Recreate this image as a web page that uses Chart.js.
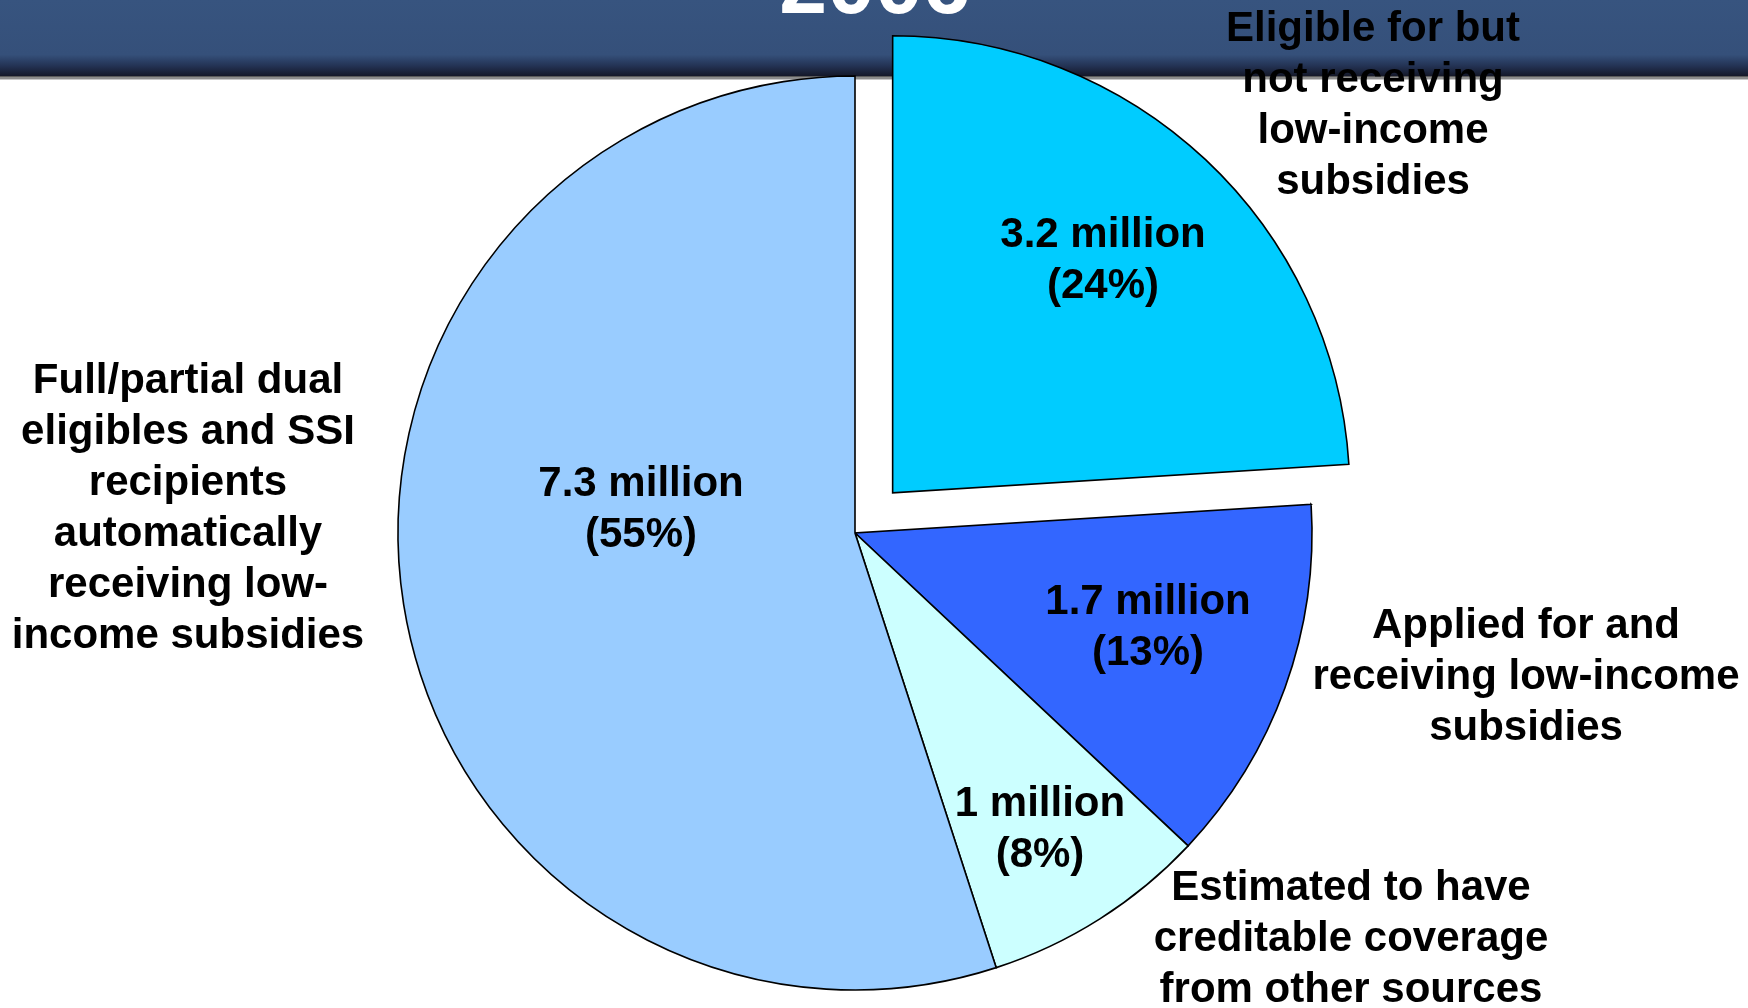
<!DOCTYPE html>
<html>
<head>
<meta charset="utf-8">
<title>Low-income subsidy status, 2006</title>
<script src="https://cdn.jsdelivr.net/npm/chart.js@4/dist/chart.umd.min.js"></script>
<style>
  html, body { margin: 0; padding: 0; background: #fff; }
  canvas { display: block; }
</style>
</head>
<body>
<canvas id="lisChart" width="1748" height="1008"></canvas>
<script>
// slices, clockwise from 12 o'clock
const categories = [
  "Eligible for but not receiving low-income subsidies",
  "Applied for and receiving low-income subsidies",
  "Estimated to have creditable coverage from other sources",
  "Full/partial dual eligibles and SSI recipients automatically receiving low-income subsidies"
];
const millions = [3.2, 1.7, 1, 7.3];
const percents = [24, 13, 8, 55];
const title = "2006";

// outer category text, already broken into lines
const outerLines = [
  ["Eligible for but", "not receiving", "low-income", "subsidies"],
  ["Applied for and", "receiving low-income", "subsidies"],
  ["Estimated to have", "creditable coverage", "from other sources"],
  ["Full/partial dual", "eligibles and SSI", "recipients", "automatically", "receiving low-", "income subsidies"]
];

const sliceColors = ["#00CCFF", "#3366FF", "#CCFFFF", "#99CCFF"];
const FONT = 'bold 42px "Liberation Sans", Arial, sans-serif';
const LINE = 51;

// where each text block sits, in px from the pie centre
const valuePos = [[248, -272], [293, 95], [185, 297], [-214, -23]];
const outerPos = [[518, -427], [671, 144], [496, 406], [-667, -24]];

function drawBlock(ctx, lines, x, y) {
  const top = y - (lines.length - 1) * LINE / 2;
  lines.forEach((s, i) => ctx.fillText(s, x, top + i * LINE));
}

const headerBand = {
  id: "headerBand",
  beforeDraw(chart) {
    const ctx = chart.ctx;
    const w = chart.width;
    ctx.save();
    ctx.fillStyle = "#fff";
    ctx.fillRect(0, 0, w, chart.height);
    const g = ctx.createLinearGradient(0, 0, 0, 76);
    g.addColorStop(0, "#37547F");
    g.addColorStop(0.72, "#35507A");
    g.addColorStop(0.86, "#243456");
    g.addColorStop(1, "#141829");
    ctx.fillStyle = g;
    ctx.fillRect(0, 0, w, 76);
    ctx.fillStyle = "#5a5a5a";
    ctx.fillRect(0, 76, w, 1);
    ctx.fillStyle = "#8c8c8c";
    ctx.fillRect(0, 77, w, 2);
    ctx.fillStyle = "#c8c8c8";
    ctx.fillRect(0, 79, w, 1);

    ctx.fillStyle = "#fff";
    ctx.font = 'bold 86px "Liberation Sans", Arial, sans-serif';
    ctx.textAlign = "center";
    ctx.textBaseline = "alphabetic";
    ctx.fillText(title, 875, 13);
    ctx.restore();
  }
};

const sliceText = {
  id: "sliceText",
  afterDatasetsDraw(chart) {
    const ctx = chart.ctx;
    const arcs = chart.getDatasetMeta(0).data;
    // centre of the un-exploded slices
    const cx = arcs[1].x;
    const cy = arcs[1].y;
    ctx.save();
    ctx.font = FONT;
    ctx.fillStyle = "#000";
    ctx.textAlign = "center";
    ctx.textBaseline = "middle";
    millions.forEach((v, i) => {
      const txt = [v + " million", "(" + percents[i] + "%)"];
      drawBlock(ctx, txt, cx + valuePos[i][0], cy + valuePos[i][1]);
    });
    outerLines.forEach((lines, i) => {
      drawBlock(ctx, lines, cx + outerPos[i][0], cy + outerPos[i][1]);
    });
    ctx.restore();
  }
};

var canvasElement = document.getElementById("lisChart");
var config = {
  type: "pie",
  data: {
    labels: categories,
    datasets: [{
      // slice sizes follow the rounded shares
      data: percents,
      backgroundColor: sliceColors,
      borderColor: "#000",
      borderWidth: 1.6,
      borderJoinStyle: "miter",
      // arc offset is quartered when drawn, so ~55px pull-out
      offset: [220, 0, 0, 0]
    }]
  },
  options: {
    responsive: false,
    animation: false,
    radius: 457,
    layout: { padding: { left: 0, right: 38, top: 58, bottom: 0 } },
    plugins: {
      legend: { display: false },
      tooltip: { enabled: false }
    }
  },
  plugins: [headerBand, sliceText]
};

var lisChart = new Chart(canvasElement, config);
</script>
</body>
</html>
